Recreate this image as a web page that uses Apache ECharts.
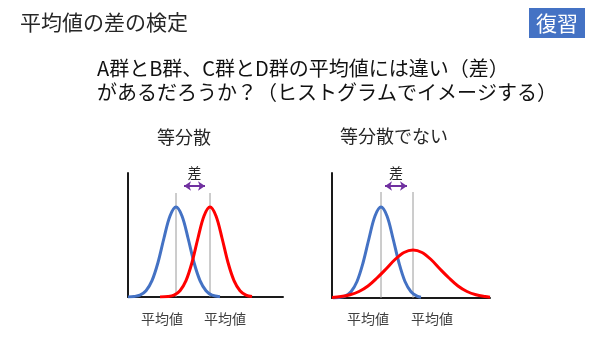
<!DOCTYPE html>
<html>
<head>
<meta charset="utf-8">
<script src="https://cdn.jsdelivr.net/npm/echarts@6/dist/echarts.min.js"></script>
<style>
  html, body { margin: 0; padding: 0; background: #ffffff; }
  #chart { width: 600px; height: 338px; }
</style>
</head>
<body>
<div id="chart"></div>
<script>
// Slide texts
const slideTitle = '平均値の差の検定';
const badgeText = '復習';
const questionLines = ['A群とB群、C群とD群の平均値には違い（差）', 'があるだろうか？（ヒストグラムでイメージする）'];
const panelTitles = ['等分散', '等分散でない'];
const diffLabel = '差';
const meanLabels = ['平均値', '平均値'];

// Equal-variance panel: distribution heights along the score axis
const eqBlue = [[0, 0.1], [6, 0.5], [12, 1.9], [18, 6.3], [24, 16.4], [30, 34.5], [36, 59], [42, 81], [48, 90],
  [54, 81], [60, 59], [66, 34.5], [72, 16.4], [78, 6.3], [84, 1.9], [92, 0.3]];
const eqRed = [[32, 0.1], [40, 0.5], [46, 1.9], [52, 6.3], [58, 16.4], [64, 34.5], [70, 59], [76, 81], [82, 90],
  [88, 81], [94, 59], [100, 34.5], [106, 16.4], [112, 6.3], [118, 1.9], [124, 0.4]];
const eqMeans = [48, 82];

// Unequal-variance panel
const neqBlue = [[1, 0.1], [7, 0.5], [13, 1.9], [19, 6.3], [25, 16.5], [31, 35], [37, 59.5], [43, 82], [49, 91],
  [55, 82], [61, 59.5], [67, 35], [73, 16.5], [79, 6.3], [85, 1.9], [89, 0.8]];
const neqRed = [[0, 0.5], [9, 1.4], [18, 3.2], [27, 6.5], [36, 12], [45, 20], [54, 29], [63, 38.5], [72, 45.5],
  [81, 48], [90, 45.5], [99, 38.5], [108, 29], [117, 20], [126, 12], [135, 6.5], [144, 3.2], [153, 1.4], [158, 0.8]];
const neqMeans = [49, 81];

// Mean marker heights and the difference arrow [from, to, height] per panel
const eqMeanTop = 104;
const neqMeanTop = 106;
const eqArrow = [56, 77, 111];
const neqArrow = [53, 75, 112];

const FONT = '"Noto Sans CJK JP", "Noto Sans", sans-serif';
const BLUE = '#4472C4';
const RED = '#FF0000';
const PURPLE = '#7030A0';
const AXIS = '#1a1a1a';

function axisPair(idx, xMax, yMax) {
  return {
    x: {
      type: 'value', gridIndex: idx, min: 0, max: xMax,
      axisLine: { show: true, onZero: false, lineStyle: { color: AXIS, width: 2 } },
      axisTick: { show: false }, axisLabel: { show: false }, splitLine: { show: false }
    },
    y: {
      type: 'value', gridIndex: idx, min: 0, max: yMax,
      axisLine: { show: true, lineStyle: { color: AXIS, width: 2 } },
      axisTick: { show: false }, axisLabel: { show: false }, splitLine: { show: false }
    }
  };
}

function curve(idx, data, color) {
  return {
    type: 'line', xAxisIndex: idx, yAxisIndex: idx, data: data,
    smooth: 0.35, showSymbol: false, silent: true, z: 3,
    lineStyle: { color: color, width: 3 }
  };
}

function meanLine(idx, x, top) {
  return {
    type: 'line', xAxisIndex: idx, yAxisIndex: idx, data: [[x, 0], [x, top]],
    showSymbol: false, silent: true, z: 2,
    lineStyle: { color: '#9a9a9a', width: 1 }
  };
}

function arrow(idx, a) {
  return {
    type: 'line', xAxisIndex: idx, yAxisIndex: idx, data: [], silent: true,
    markLine: {
      silent: true, symbol: ['arrow', 'arrow'], symbolSize: [7, 7],
      lineStyle: { color: PURPLE, width: 2, type: 'solid' },
      label: {
        show: true, position: 'middle', formatter: diffLabel, distance: 6,
        color: '#262626', fontSize: 14, fontFamily: FONT
      },
      data: [[{ coord: [a[0], a[2]] }, { coord: [a[1], a[2]] }]]
    }
  };
}

const left = axisPair(0, 155, 124);
const right = axisPair(1, 158, 125);

const chart = echarts.init(document.getElementById('chart'), null, { renderer: 'canvas' });

function txt(x, y, text, size, color, align) {
  return {
    type: 'text', x: x, y: y, silent: true,
    style: {
      text: text, fill: color, fontSize: size, fontFamily: FONT,
      textAlign: align || 'left', textVerticalAlign: 'middle'
    }
  };
}

chart.setOption({
  backgroundColor: '#ffffff',
  animation: false,
  grid: [
    { left: 128, top: 173, width: 155, height: 124 },
    { left: 332, top: 173, width: 158, height: 125 }
  ],
  xAxis: [left.x, right.x],
  yAxis: [left.y, right.y],
  series: [
    meanLine(0, eqMeans[0], eqMeanTop), meanLine(0, eqMeans[1], eqMeanTop),
    curve(0, eqBlue, BLUE), curve(0, eqRed, RED), arrow(0, eqArrow),
    meanLine(1, neqMeans[0], neqMeanTop), meanLine(1, neqMeans[1], neqMeanTop),
    curve(1, neqBlue, BLUE), curve(1, neqRed, RED), arrow(1, neqArrow)
  ],
  graphic: [
    txt(20, 22, slideTitle, 21, '#262626'),
    { type: 'rect', shape: { x: 529, y: 8, width: 56, height: 30 }, style: { fill: BLUE }, silent: true },
    txt(557, 23, badgeText, 21, '#ffffff', 'center'),
    txt(97, 68, questionLines[0], 20, '#111111'),
    txt(97, 92, questionLines[1], 20, '#111111'),
    txt(184, 137, panelTitles[0], 18, '#262626', 'center'),
    txt(394, 136, panelTitles[1], 18, '#262626', 'center'),
    txt(162, 319, meanLabels[0], 14, '#404040', 'center'),
    txt(225, 319, meanLabels[1], 14, '#404040', 'center'),
    txt(368, 319, meanLabels[0], 14, '#404040', 'center'),
    txt(432, 319, meanLabels[1], 14, '#404040', 'center')
  ]
});
</script>
</body>
</html>
